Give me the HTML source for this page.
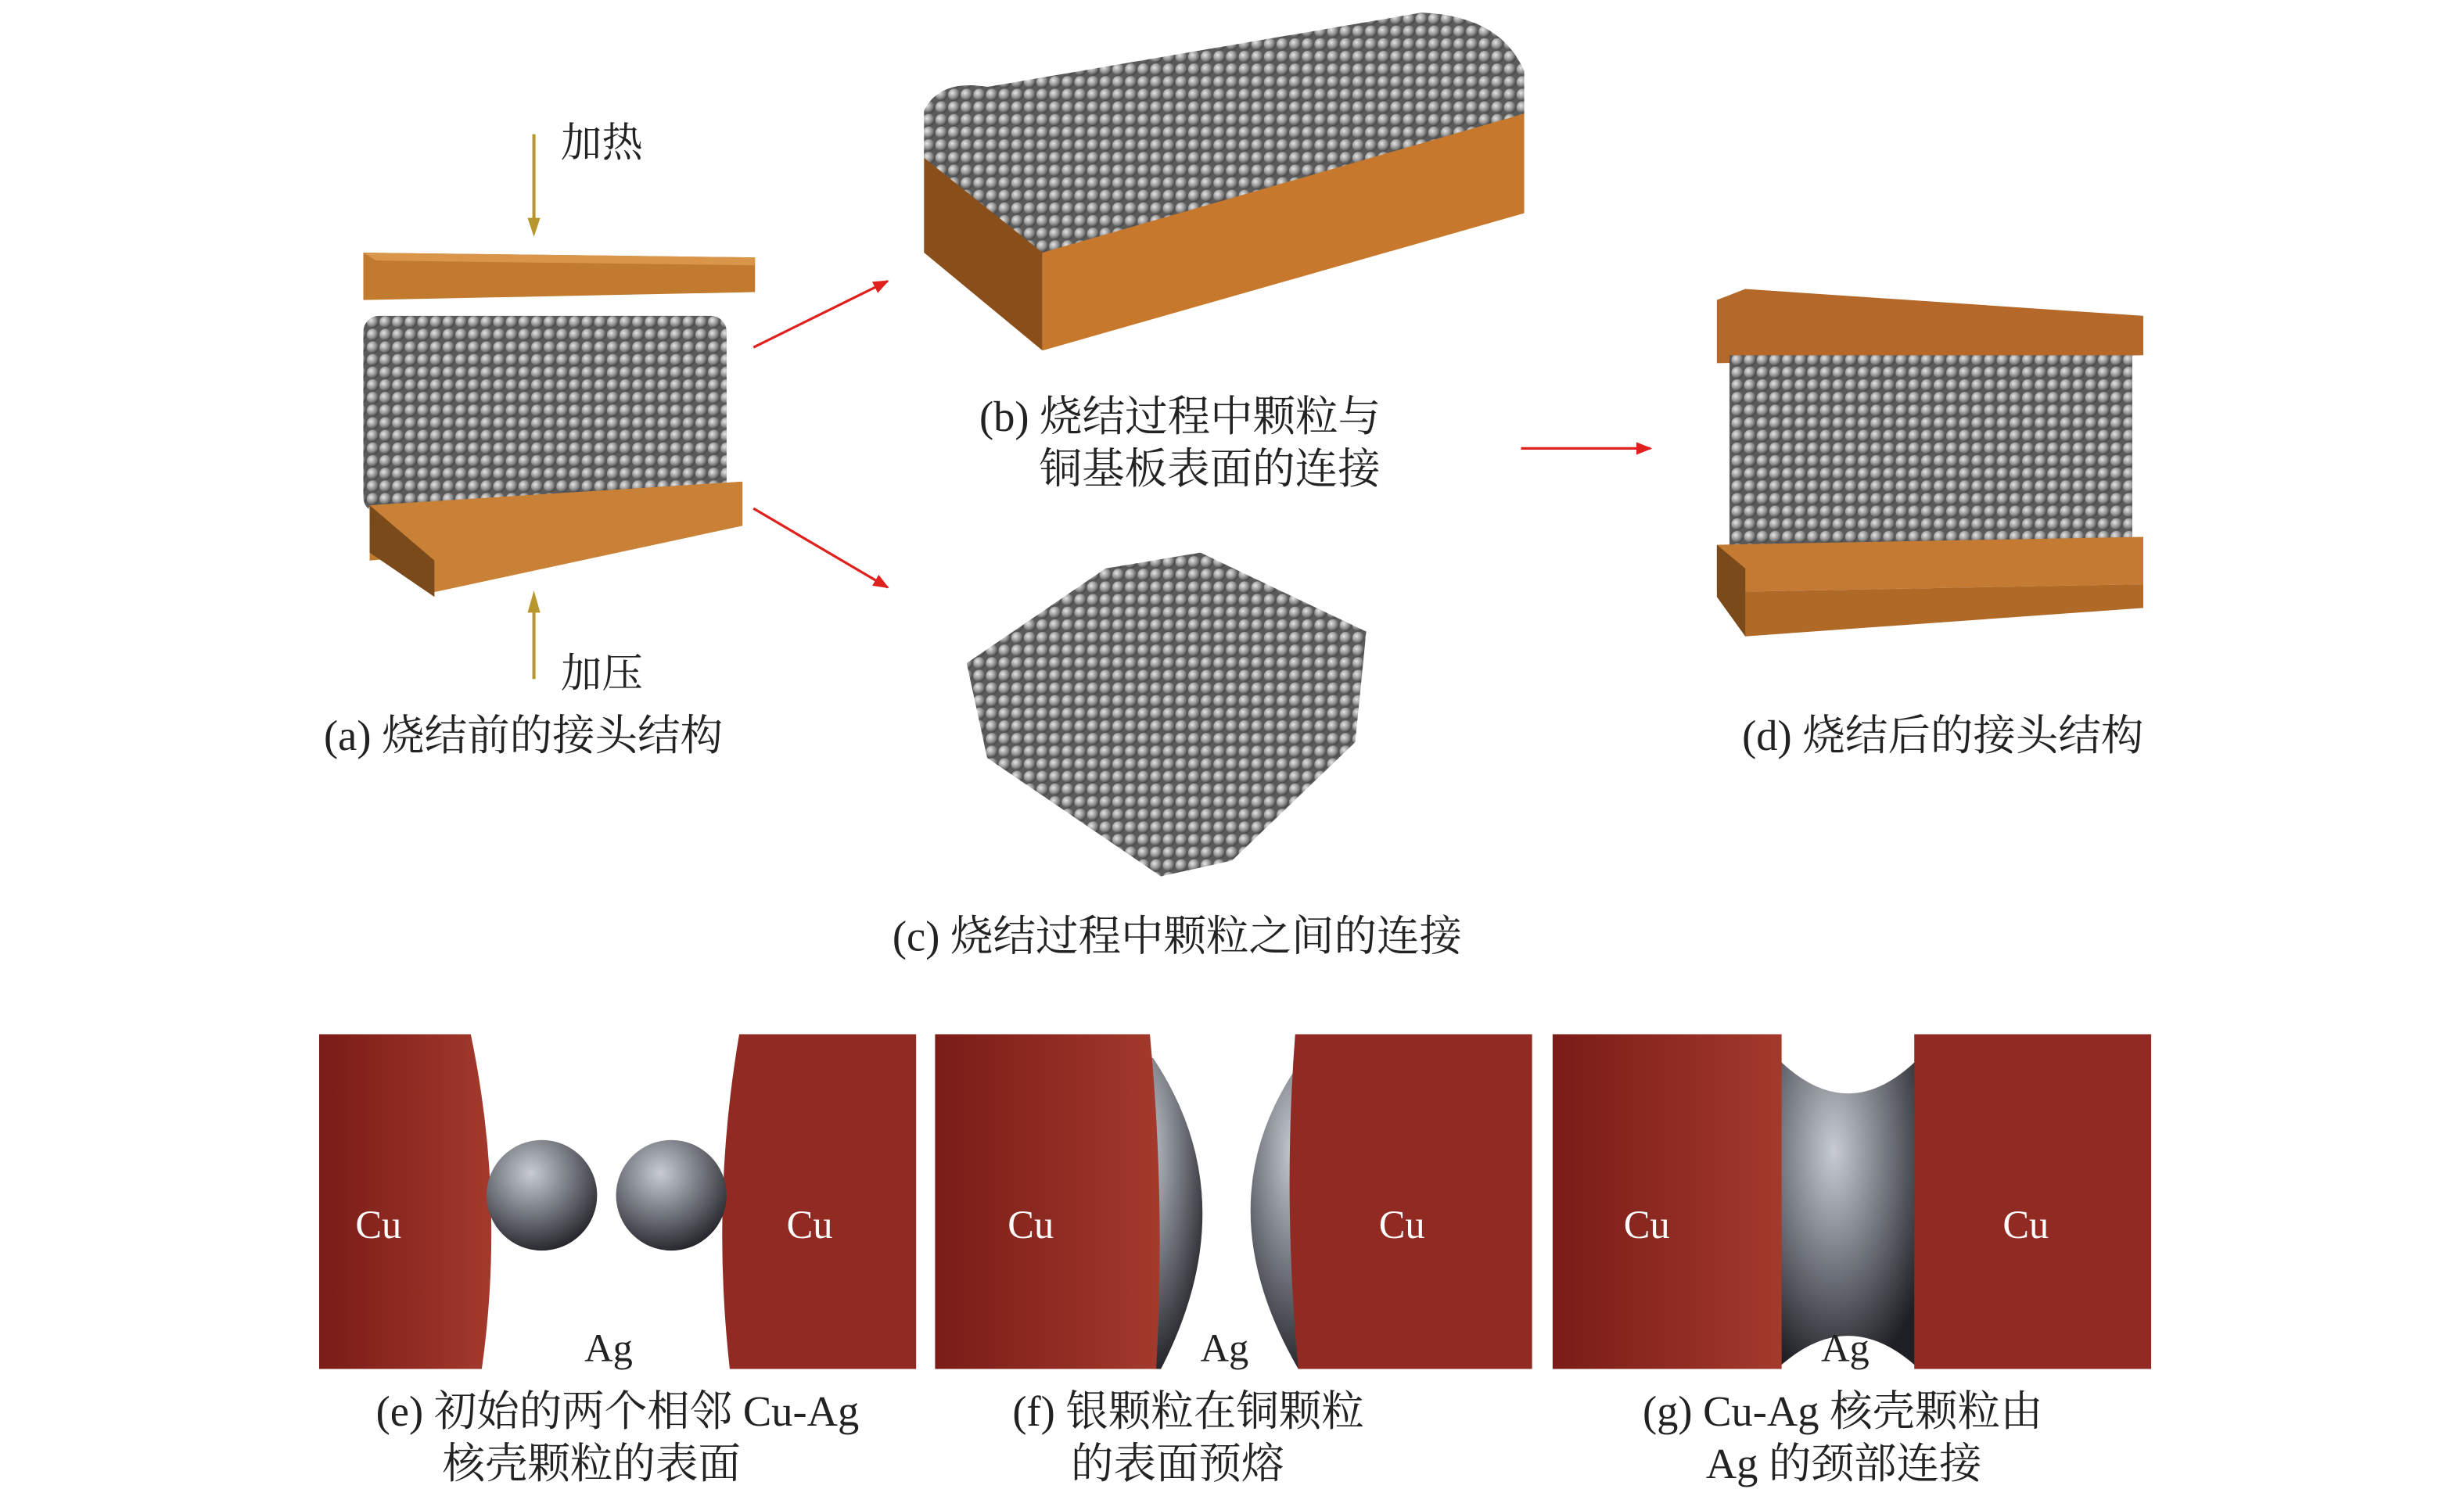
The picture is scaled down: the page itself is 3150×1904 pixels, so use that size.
<!DOCTYPE html>
<html><head><meta charset="utf-8"><style>
html,body{margin:0;padding:0;background:#fff;}
svg{display:block;}
text{font-family:"Liberation Serif","Noto Serif CJK SC","Noto Sans CJK SC",serif;fill:#222;}
</style></head><body>
<svg width="3150" height="1904" viewBox="0 0 1560 943" xmlns="http://www.w3.org/2000/svg">
<defs>
<radialGradient id="ball" cx="0.35" cy="0.35" r="0.7">
<stop offset="0" stop-color="#e6e6e6"/><stop offset="0.6" stop-color="#8d8d8d"/><stop offset="1" stop-color="#3e3e3e"/></radialGradient>
<pattern id="pp" width="8" height="8" patternUnits="userSpaceOnUse">
<rect width="8" height="8" fill="#5a5a5a"/>
<circle cx="4" cy="4" r="3.8" fill="url(#ball)"/></pattern>
<radialGradient id="big" cx="0.4" cy="0.3" r="0.75">
<stop offset="0" stop-color="#c8ccd2"/><stop offset="0.55" stop-color="#6b6e76"/><stop offset="1" stop-color="#1e1f24"/></radialGradient>
<linearGradient id="cu" x1="0" x2="1"><stop offset="0" stop-color="#7a1c18"/><stop offset="0.5" stop-color="#8e2a22"/><stop offset="1" stop-color="#a33a2c"/></linearGradient>
<marker id="ra" markerWidth="10" markerHeight="8" refX="9" refY="4" orient="auto" markerUnits="userSpaceOnUse"><path d="M0,0 L10,4 L0,8 z" fill="#e0201c"/></marker>
</defs>

<!-- (a) -->
<text x="355" y="99" font-size="26">加热</text>
<line x1="338" y1="85" x2="338" y2="140" stroke="#b8962e" stroke-width="2"/>
<polygon points="334,138 342,138 338,150" fill="#b8962e"/>
<polygon points="230,160 478,163 478,185 230,190" fill="#c27a2e"/>
<polygon points="230,160 478,163 478,168 238,165" fill="#d9964a"/>
<rect x="230" y="200" width="230" height="125" rx="10" fill="url(#pp)"/>
<polygon points="234,320 470,305 470,333 234,355" fill="#c27a2e"/>
<polygon points="234,320 275,375 470,333 470,305" fill="#c88136"/>
<polygon points="234,320 234,350 275,378 275,355" fill="#7a4a1a"/>
<line x1="338" y1="430" x2="338" y2="385" stroke="#b8962e" stroke-width="2"/>
<polygon points="334,388 342,388 338,374" fill="#b8962e"/>
<text x="355" y="435" font-size="26">加压</text>
<text x="205" y="475" font-size="27">(a) 烧结前的接头结构</text>

<line x1="477" y1="220" x2="562" y2="178" stroke="#e0201c" stroke-width="1.6" marker-end="url(#ra)"/>
<line x1="477" y1="322" x2="562" y2="372" stroke="#e0201c" stroke-width="1.6" marker-end="url(#ra)"/>
<line x1="963" y1="284" x2="1045" y2="284" stroke="#e0201c" stroke-width="1.6" marker-end="url(#ra)"/>

<!-- (b) -->
<polygon points="585,95 660,155 660,222 585,160" fill="#8a4e1a"/>
<polygon points="660,155 965,70 965,135 660,222" fill="#c7782c"/>
<path d="M585,70 Q595,50 625,55 L900,8 Q950,10 965,45 L965,72 L660,160 L585,100 Z" fill="url(#pp)"/>

<text x="620" y="273" font-size="27">(b) 烧结过程中颗粒与</text>
<text x="658" y="306" font-size="27">铜基板表面的连接</text>

<!-- (c) -->
<path d="M612,420 L700,360 L760,350 L865,400 L858,470 L780,545 L735,555 L625,480 Z" fill="url(#pp)"/>
<text x="565" y="602" font-size="27">(c) 烧结过程中颗粒之间的连接</text>

<!-- (d) -->
<polygon points="1087,190 1105,183 1357,200 1357,225 1087,230" fill="#b4682a"/>
<rect x="1095" y="225" width="255" height="125" fill="url(#pp)"/>
<polygon points="1087,345 1357,340 1357,370 1087,375" fill="#c47a32"/>
<polygon points="1087,375 1105,403 1357,385 1357,370" fill="#b06a28"/>
<polygon points="1087,345 1087,378 1105,403 1105,360" fill="#7a4a1a"/>
<text x="1103" y="475" font-size="27">(d) 烧结后的接头结构</text>

<!-- (e) -->
<rect x="202" y="655" width="378" height="212" fill="#fff"/>
<path d="M202,655 L298,655 Q320,760 305,867 L202,867 Z" fill="url(#cu)"/>
<path d="M580,655 L468,655 Q450,760 462,867 L580,867 Z" fill="#922a24"/>
<circle cx="343" cy="757" r="35" fill="url(#big)"/>
<circle cx="425" cy="757" r="35" fill="url(#big)"/>
<text x="225" y="784" font-size="25" style="fill:#fff">Cu</text>
<text x="498" y="784" font-size="25" style="fill:#fff">Cu</text>
<text x="370" y="862" font-size="25">Ag</text>

<!-- (f) -->
<rect x="592" y="655" width="378" height="212" fill="#fff"/>
<path d="M730,670 Q790,760 735,867 L700,867 L700,670 Z" fill="url(#big)"/>
<path d="M825,670 Q760,760 822,867 L860,867 L860,670 Z" fill="url(#big)"/>
<path d="M592,655 L728,655 Q738,760 732,867 L592,867 Z" fill="url(#cu)"/>
<path d="M970,655 L820,655 Q812,760 822,867 L970,867 Z" fill="#922a24"/>
<text x="638" y="784" font-size="25" style="fill:#fff">Cu</text>
<text x="873" y="784" font-size="25" style="fill:#fff">Cu</text>
<text x="760" y="862" font-size="25">Ag</text>

<!-- (g) -->
<rect x="983" y="655" width="379" height="212" fill="#fff"/>
<path d="M1125,670 Q1170,715 1215,670 L1215,867 Q1170,825 1125,867 Z" fill="url(#big)"/>
<path d="M983,655 L1128,655 L1128,867 L983,867 Z" fill="url(#cu)"/>
<path d="M1362,655 L1212,655 L1212,867 L1362,867 Z" fill="#922a24"/>
<text x="1028" y="784" font-size="25" style="fill:#fff">Cu</text>
<text x="1268" y="784" font-size="25" style="fill:#fff">Cu</text>
<text x="1153" y="862" font-size="25">Ag</text>

<text x="238" y="903" font-size="27">(e) 初始的两个相邻 Cu-Ag</text>
<text x="280" y="936" font-size="27">核壳颗粒的表面</text>
<text x="641" y="903" font-size="27">(f) 银颗粒在铜颗粒</text>
<text x="678" y="936" font-size="27">的表面预熔</text>
<text x="1040" y="903" font-size="27">(g) Cu-Ag 核壳颗粒由</text>
<text x="1080" y="936" font-size="27">Ag 的颈部连接</text>
</svg>
</body></html>
